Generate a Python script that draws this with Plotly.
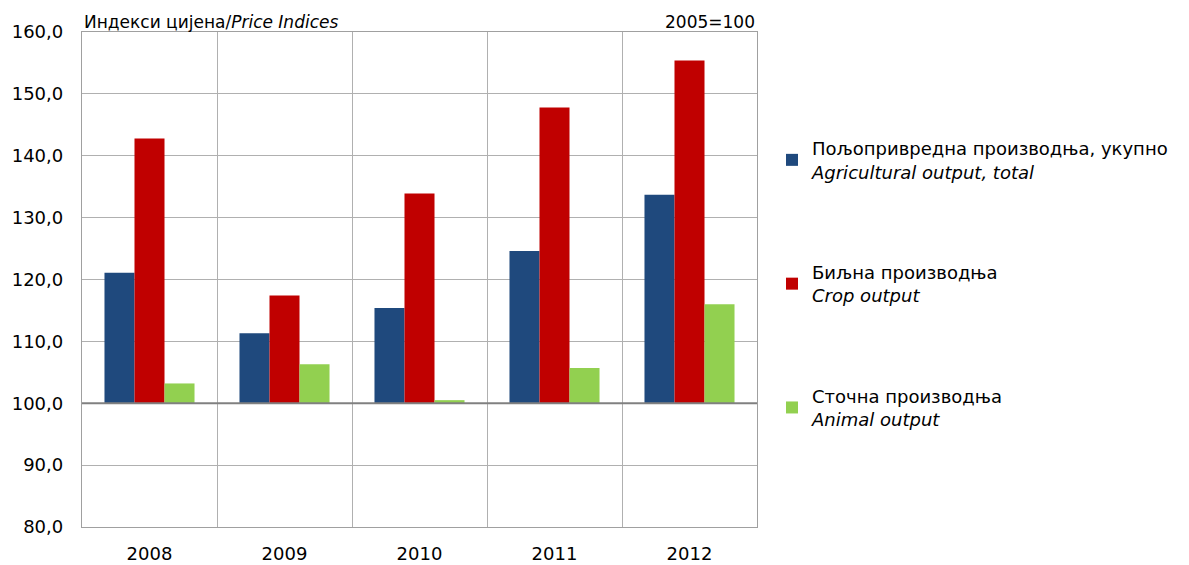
import plotly.graph_objects as go

years = ["2008", "2009", "2010", "2011", "2012"]
total = [121.1, 111.3, 115.4, 124.6, 133.7]
crop = [142.8, 117.4, 133.9, 147.8, 155.4]
animal = [103.2, 106.3, 100.5, 105.7, 116.0]

names = [
    "Пољопривредна производња, укупно<br><i>Agricultural output, total</i>",
    "Биљна производња<br><i>Crop output</i>",
    "Сточна производња<br><i>Animal output</i>",
]
colors = ["#1f497d", "#c00000", "#92d050"]
base = 100

fig = go.Figure()
for i, (vals, name, col) in enumerate(zip([total, crop, animal], names, colors)):
    fig.add_trace(go.Bar(
        x=years, y=[v - base for v in vals], base=base, name=name,
        marker=dict(color=col, line=dict(width=0)),
        legendgroup=f"g{i}",
    ))

font_family = "DejaVu Sans, sans-serif"
fig.update_layout(
    width=1181, height=557,
    margin=dict(l=74, r=432, t=24, b=38),
    plot_bgcolor="white", paper_bgcolor="white",
    barmode="group", bargap=0.333, bargroupgap=0,
    separators=",.",
    font=dict(family=font_family, size=18, color="black"),
    legend=dict(x=1.0222, y=0.491, xanchor="left", yanchor="middle",
                traceorder="grouped", tracegroupgap=74,
                font=dict(size=18), itemwidth=30),
    showlegend=True,
)
fig.update_xaxes(type="category", tickson="boundaries", showgrid=True, automargin=False,
                 gridcolor="#b0b0b0", gridwidth=1.3, showline=True, linecolor="#a0a0a0",
                 linewidth=1.3, mirror=True, ticks="", tickfont=dict(size=18),
                 ticklabelstandoff=10)
fig.update_yaxes(range=[80, 160], dtick=10, tickformat=".1f", showgrid=True, automargin=False,
                 gridcolor="#b0b0b0", gridwidth=1.3, showline=True, linecolor="#a0a0a0",
                 linewidth=1.3, mirror=True, zeroline=False, ticks="", tickfont=dict(size=18),
                 ticklabelstandoff=14)
fig.add_shape(type="line", xref="paper", yref="y", x0=0, x1=1, y0=base, y1=base,
              line=dict(color="#808080", width=2))
fig.add_annotation(text="Индекси цијена/<i>Price Indices</i>", xref="paper", yref="paper",
                   x=0, y=1, xanchor="left", yanchor="bottom", showarrow=False,
                   font=dict(size=17), yshift=-2)
fig.add_annotation(text="2005=100", xref="paper", yref="paper",
                   x=1, y=1, xanchor="right", yanchor="bottom", showarrow=False,
                   font=dict(size=17), yshift=-2)
fig.write_html("out.html")
